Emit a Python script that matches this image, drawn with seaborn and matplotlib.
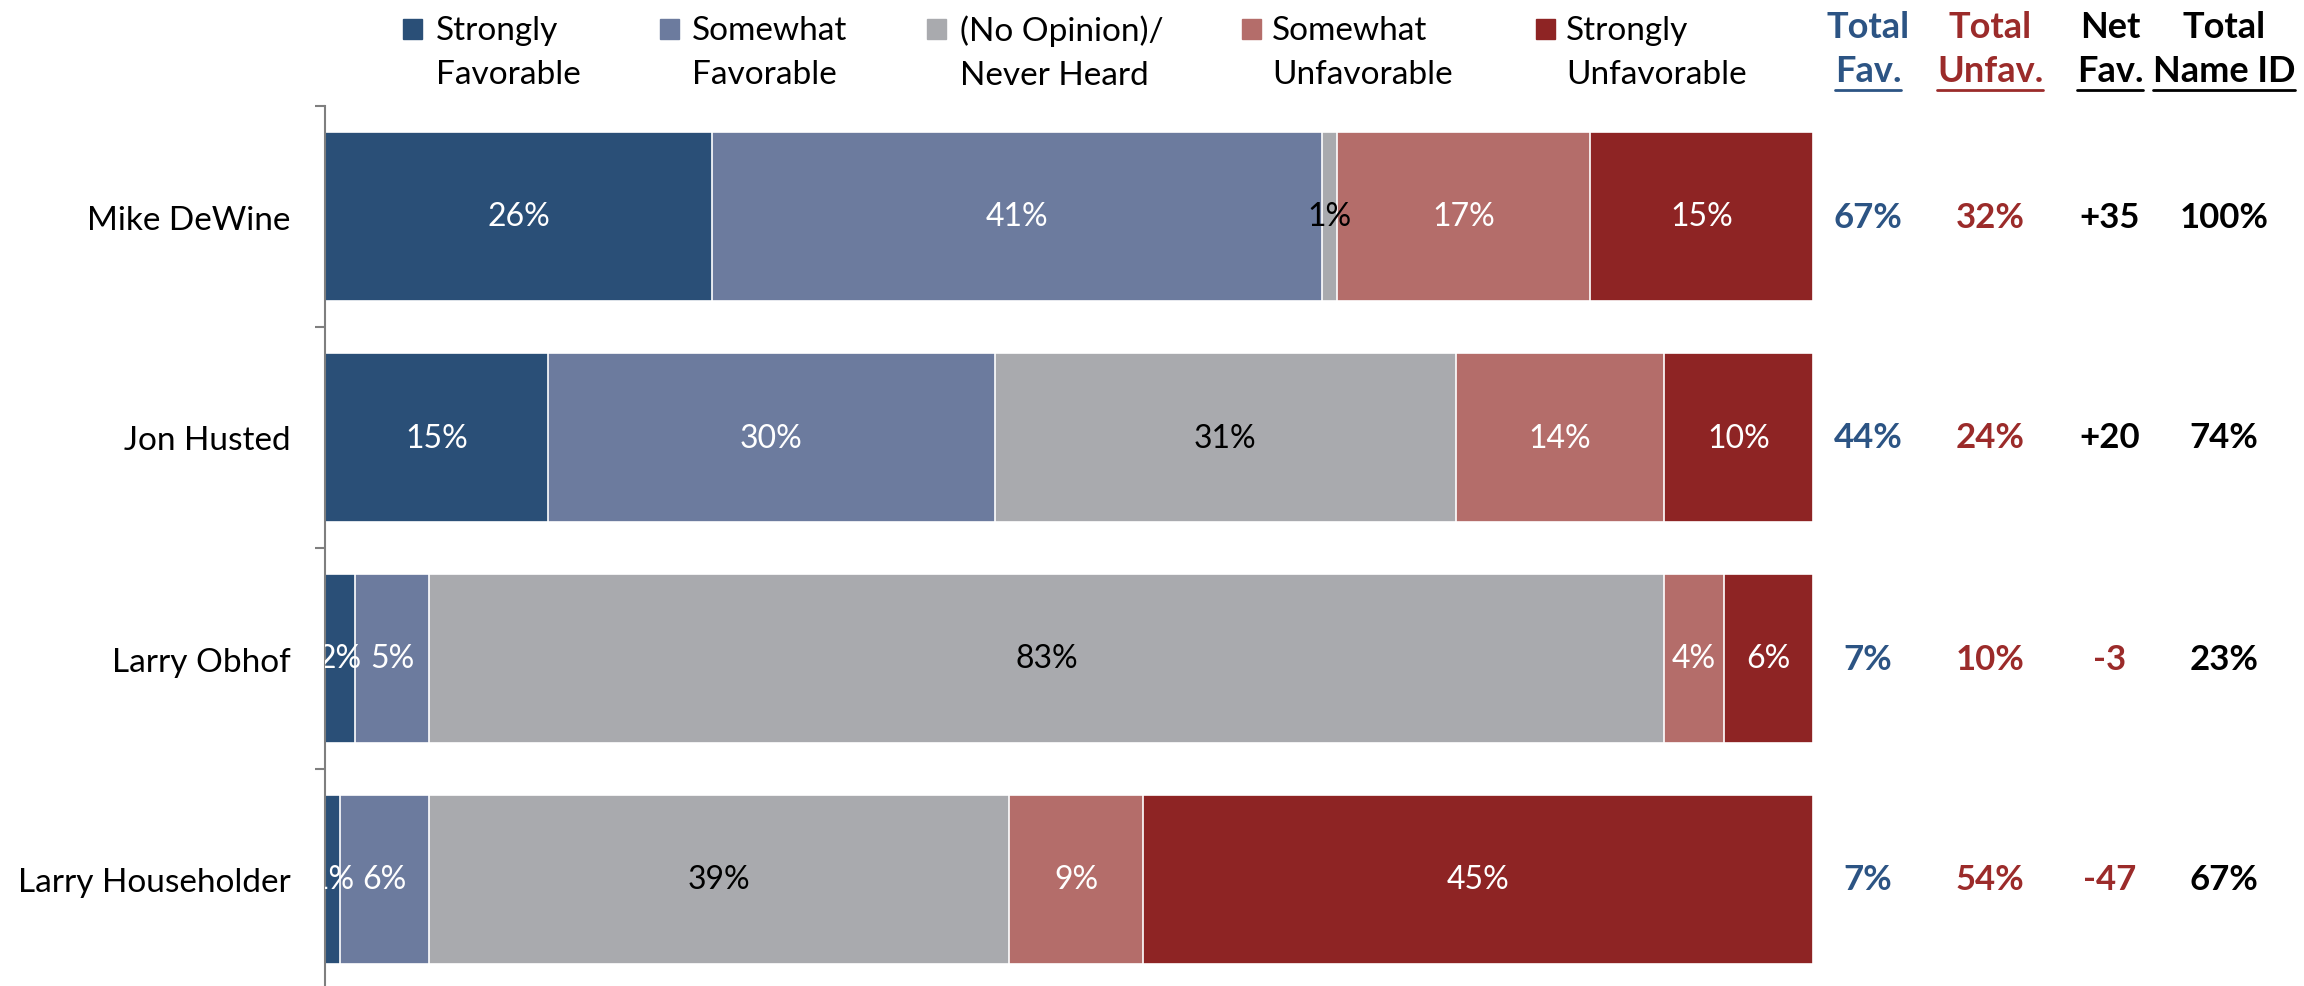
import matplotlib.pyplot as plt
import matplotlib.transforms as mtransforms
from matplotlib.patches import Rectangle
from matplotlib.lines import Line2D
import seaborn as sns
import pandas as pd
import numpy as np

# data
candidates = ["Mike DeWine", "Jon Husted", "Larry Obhof", "Larry Householder"]
categories = ["Strongly\nFavorable", "Somewhat\nFavorable", "(No Opinion)/\nNever Heard",
              "Somewhat\nUnfavorable", "Strongly\nUnfavorable"]
strongly_fav = [26, 15, 2, 1]
somewhat_fav = [41, 30, 5, 6]
no_opinion = [1, 31, 83, 39]
somewhat_unfav = [17, 14, 4, 9]
strongly_unfav = [15, 10, 6, 45]

total_fav = ["67%", "44%", "7%", "7%"]
total_unfav = ["32%", "24%", "10%", "54%"]
net_fav = ["+35", "+20", "-3", "-47"]
name_id = ["100%", "74%", "23%", "67%"]

colors = ["#2A4F77", "#6C7B9E", "#A9AAAE", "#B46D6A", "#8E2424"]
label_colors = ["white", "white", "black", "white", "white"]
BLUE = "#2C5484"
RED = "#9B2B2A"

sns.set_theme(style="white")
plt.rcParams["font.family"] = ["Lato", "DejaVu Sans"]

df = pd.DataFrame({c: v for c, v in zip(categories, [strongly_fav, somewhat_fav, no_opinion,
                                                    somewhat_unfav, strongly_unfav])},
                  index=candidates)
cum = df.cumsum(axis=1)

W, H = 2304, 987
fig = plt.figure(figsize=(W / 100, H / 100), dpi=100)
ax = fig.add_axes([325 / W, -4 / H, 1488 / W, 884 / H])

# stacked bars: draw cumulative totals from the widest down
for i in reversed(range(len(categories))):
    col = categories[i]
    layer = pd.DataFrame({"name": candidates, "value": cum[col].values})
    sns.barplot(data=layer, x="value", y="name", order=candidates, orient="h",
                color=colors[i], saturation=1, width=0.765,
                edgecolor="white", linewidth=1.2, ax=ax)

# segment labels
for r, name in enumerate(candidates):
    for i, col in enumerate(categories):
        v = df.loc[name, col]
        x = cum.loc[name, col] - v / 2
        ax.text(x, r, f"{v}%", ha="center", va="center", fontsize=23,
                color=label_colors[i], clip_on=True)

ax.set_xlim(0, 100)
ax.set_ylim(3.5, -0.5)
ax.set_xticks([])
ax.set_xlabel("")
ax.set_ylabel("")
ax.set_yticks(range(len(candidates)))
ax.set_yticklabels(candidates)
ax.set_yticks(np.arange(-0.5, len(candidates), 1), minor=True)
ax.tick_params(axis="y", which="major", length=0, pad=25, labelsize=24, labelcolor="black")
ax.tick_params(axis="y", which="minor", length=7.5, width=1.5, color="#7f7f7f",
               direction="out", left=True)
for s in ["top", "right", "bottom"]:
    ax.spines[s].set_visible(False)
ax.spines["left"].set_color("#7f7f7f")
ax.spines["left"].set_linewidth(1.5)

# legend drawn by hand so the swatch sits on the first line
sq_left = [403, 660, 927, 1242, 1536]
txt_left = [436, 692, 960, 1272, 1566]
for i, cat in enumerate(categories):
    fig.add_artist(Rectangle((sq_left[i] / W, 1 - 40 / H), 19 / W, 20 / H,
                             transform=fig.transFigure, color=colors[i]))
    fig.text(txt_left[i] / W, 1 - 53 / H, cat, ha="left", va="center",
             fontsize=24, linespacing=1.6, color="black")

# right-hand summary table
col_x = [1868, 1990, 2110, 2224]
headers = [("Total", "Fav."), ("Total", "Unfav."), ("Net", "Fav."), ("Total", "Name ID")]
head_colors = [BLUE, RED, "black", "black"]
second_lines = []
for x, (h1, h2), c in zip(col_x, headers, head_colors):
    fig.text(x / W, 1 - 28 / H, h1, ha="center", va="center", fontsize=26,
             fontweight="bold", color=c)
    t = fig.text(x / W, 1 - 71 / H, h2, ha="center", va="center", fontsize=26,
                 fontweight="bold", color=c)
    second_lines.append((t, c))

fig.canvas.draw()
renderer = fig.canvas.get_renderer()
for t, c in second_lines:
    bb = t.get_window_extent(renderer)
    fig.add_artist(Line2D([bb.x0 / W, bb.x1 / W], [1 - 91 / H, 1 - 91 / H],
                          transform=fig.transFigure, color=c, linewidth=2))

blend = mtransforms.blended_transform_factory(fig.transFigure, ax.transData)
for r in range(len(candidates)):
    net_color = "black" if net_fav[r].startswith("+") else RED
    row = [(total_fav[r], BLUE), (total_unfav[r], RED), (net_fav[r], net_color),
           (name_id[r], "black")]
    for x, (txt, c) in zip(col_x, row):
        ax.text(x / W, r, txt, transform=blend, ha="center", va="center",
                fontsize=25, fontweight="bold", color=c, clip_on=False)

fig.savefig("out.png", dpi=100)
